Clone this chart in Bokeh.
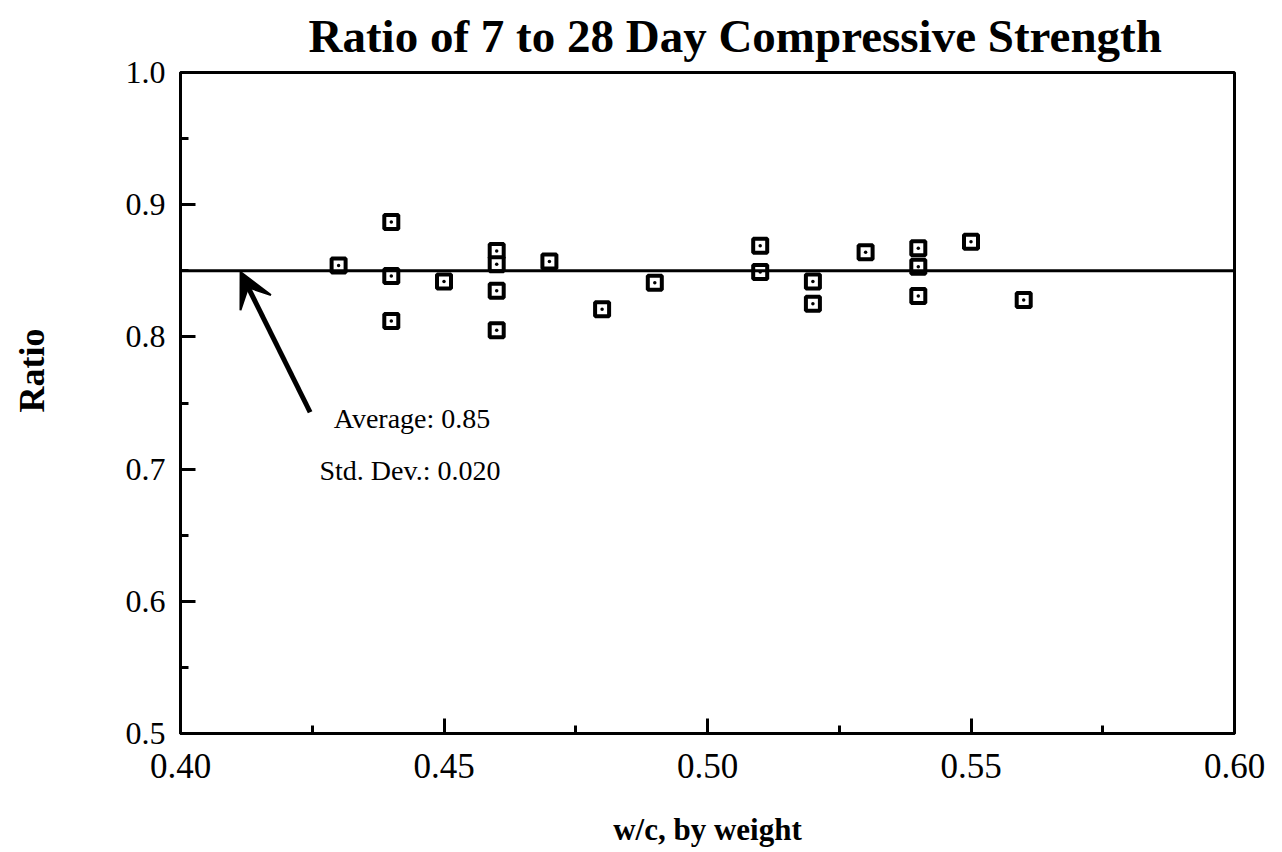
from bokeh.plotting import figure
from bokeh.embed import file_html
from bokeh.resources import INLINE
from bokeh.models import Span, Arrow, VeeHead, Label, FixedTicker, NumeralTickFormatter, Range1d, Title

wc = [0.43, 0.44, 0.44, 0.44, 0.45, 0.46, 0.46, 0.46, 0.46, 0.47, 0.48, 0.49,
      0.51, 0.51, 0.52, 0.52, 0.53, 0.54, 0.54, 0.54, 0.55, 0.56]
ratio = [0.854, 0.887, 0.846, 0.812, 0.842, 0.865, 0.855, 0.835, 0.805, 0.857, 0.821, 0.841,
         0.869, 0.849, 0.842, 0.825, 0.864, 0.867, 0.853, 0.831, 0.872, 0.828]
average = 0.85
x_ticks = [0.40, 0.45, 0.50, 0.55, 0.60]
y_ticks = [0.5, 0.6, 0.7, 0.8, 0.9, 1.0]
ann_lines = ["Average:  0.85", "Std. Dev.:  0.020"]

FONT = "Liberation Serif"

p = figure(width=1280, height=850, output_backend="svg", toolbar_location=None,
           x_range=Range1d(0.40, 0.60), y_range=Range1d(0.5, 1.0),
           min_border_left=180, min_border_right=46, min_border_top=72, min_border_bottom=117)
p.title = Title(text="Ratio of 7 to 28 Day Compressive Strength", align="left",
                text_font=FONT, text_font_size="47px", text_font_style="bold",
                text_color="black", offset=128, standoff=18, vertical_align="top")
p.grid.visible = False
p.outline_line_color = "black"
p.outline_line_width = 3

for ax in (p.xaxis, p.yaxis):
    ax.axis_line_width = 3
    ax.major_tick_line_width = 3
    ax.minor_tick_line_width = 3
    ax.major_tick_in = 15
    ax.major_tick_out = 0
    ax.minor_tick_in = 8
    ax.minor_tick_out = 0
    ax.major_label_text_font = FONT
    ax.major_label_text_color = "black"
    ax.axis_label_text_font = FONT
    ax.axis_label_text_font_style = "bold"
    ax.axis_label_text_color = "black"

p.xaxis.major_label_text_font_size = "35px"
p.yaxis.major_label_text_font_size = "32px"
p.xaxis.axis_label_text_font_size = "31px"

p.xaxis.ticker = FixedTicker(ticks=x_ticks, minor_ticks=[0.425, 0.475, 0.525, 0.575])
p.yaxis.ticker = FixedTicker(ticks=y_ticks, minor_ticks=[0.55, 0.65, 0.75, 0.85, 0.95])
p.xaxis.formatter = NumeralTickFormatter(format="0.00")
p.yaxis.formatter = NumeralTickFormatter(format="0.0")
p.xaxis.major_label_standoff = 20
p.yaxis.major_label_standoff = 15
p.xaxis.axis_label = "w/c, by weight"
p.xaxis.axis_label_standoff = 31

# invisible spacer between the tick labels and the y-axis title
p.add_layout(Title(text=" ", standoff=67, text_font=FONT, text_font_size="1px",
                   text_color="white"), "left")
# y-axis title, placed slightly above the frame centre as in the original
p.add_layout(Title(text="Ratio", align="left", offset=321, standoff=2,
                   text_font=FONT, text_font_size="36px", text_font_style="bold",
                   text_color="black"), "left")

p.add_layout(Span(location=average, dimension="width", line_color="black", line_width=3))

p.scatter(wc, ratio, marker="square_dot", size=14, line_width=4,
          line_color="black", fill_color="white")

p.add_layout(Arrow(end=VeeHead(size=34, fill_color="black", line_color="black", line_width=2),
                   x_start=0.4246, y_start=0.743, x_end=0.4114, y_end=0.849,
                   line_width=5, line_color="black"))

p.add_layout(Label(x=0.4446, y=0.738, text=ann_lines[0], text_font=FONT, text_color="black",
                   text_font_size="28px", text_align="center", text_baseline="middle"))
p.add_layout(Label(x=0.4442, y=0.699, text=ann_lines[1], text_font=FONT, text_color="black",
                   text_font_size="28px", text_align="center", text_baseline="middle"))

open("out.html", "w").write(file_html(p, INLINE))
